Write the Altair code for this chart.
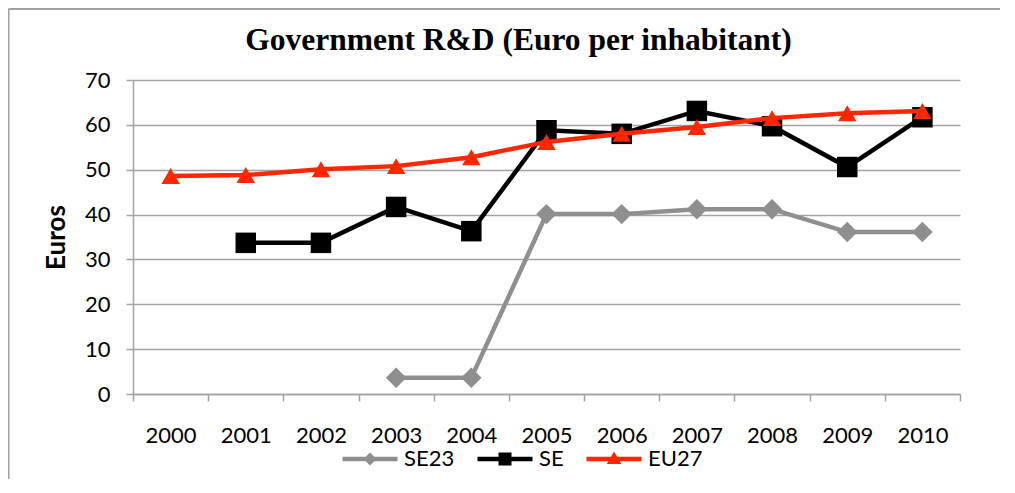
import altair as alt
import pandas as pd

years = ["2000", "2001", "2002", "2003", "2004", "2005", "2006", "2007", "2008", "2009", "2010"]
se23 = [None, None, None, 3.6, 3.6, 40.1, 40.1, 41.2, 41.2, 36.1, 36.1]
se = [None, 33.7, 33.7, 41.7, 36.3, 58.8, 58.0, 63.1, 59.7, 50.6, 61.7]
eu27 = [48.6, 48.8, 50.1, 50.8, 52.8, 56.2, 58.0, 59.5, 61.5, 62.6, 63.1]
series_names = ["SE23", "SE", "EU27"]
series_values = [se23, se, eu27]
colors = ["#8f8f8f", "#000000", "#ff2600"]
shapes = ["diamond", "square", "triangle-up"]
marker_sizes = [420, 420, 340]
y_ticks = [0, 10, 20, 30, 40, 50, 60, 70]
title_text = "Government R&D (Euro per inhabitant)"

W, H = 827, 314
PAD = {"left": 125, "top": 72, "right": 40, "bottom": 85}
GRID = "#a3a3a3"

# legend symbols: line segment + marker (custom paths)
seg = "M-5.5,-0.45H5.5V0.45H-5.5Z "
legend_paths = [
    seg + "M0,-1.3L1.3,0L0,1.3L-1.3,0Z",
    seg + "M-1.3,-1.3H1.3V1.3H-1.3Z",
    seg + "M0,-1.5L1.45,1.0H-1.45Z",
]

x_enc = alt.X(
    "year:O",
    scale=alt.Scale(type="band", domain=years, paddingInner=0, paddingOuter=0),
    axis=alt.Axis(
        title=None, labelAngle=0, tickBand="extent", grid=False,
        labelFont="Lato", labelFontSize=22, labelColor="black", labelPadding=24,
        tickSize=7, tickColor=GRID, tickWidth=1.5, domainColor=GRID, domainWidth=1.5,
    ),
)
y_enc = alt.Y(
    "value:Q",
    scale=alt.Scale(domain=[0, 70], nice=False, zero=True),
    axis=alt.Axis(
        values=y_ticks, title="Euros", titleFont="Lato", titleFontSize=26,
        titleFontWeight="bold", titleColor="black", titlePadding=15,
        labelFont="Lato", labelFontSize=22, labelColor="black", labelPadding=16,
        tickSize=7, tickColor=GRID, tickWidth=1.5, domainColor=GRID, domainWidth=1.5,
        grid=True, gridColor=GRID, gridWidth=1.5,
    ),
)

layers = []
for name, vals, col, shp, msz in zip(series_names, series_values, colors, shapes, marker_sizes):
    df = pd.DataFrame({"year": years, "value": vals}).dropna()
    base = alt.Chart(df).encode(x=x_enc, y=y_enc)
    layers.append(base.mark_line(color=col, strokeWidth=4.5))
    layers.append(base.mark_point(filled=True, color=col, shape=shp, size=msz, opacity=1))

legend_df = pd.DataFrame({"series": series_names})
legend_layer = alt.Chart(legend_df).transform_filter("false").mark_point(filled=True, opacity=1).encode(
    fill=alt.Fill("series:N", scale=alt.Scale(domain=series_names, range=colors),
                  legend=alt.Legend(title=None)),
    shape=alt.Shape("series:N", scale=alt.Scale(domain=series_names, range=legend_paths),
                    legend=alt.Legend(title=None)),
)

one = pd.DataFrame({"k": [0]})
frame_top = alt.Chart(one).mark_rule(color="#a0a0a0", strokeWidth=2).encode(
    x=alt.value(-PAD["left"] + 0.5), x2=alt.value(W + PAD["right"]), y=alt.value(-PAD["top"] + 1)
)
frame_left = alt.Chart(one).mark_rule(color="#a0a0a0", strokeWidth=2).encode(
    x=alt.value(-PAD["left"] + 0.5), y=alt.value(-PAD["top"] + 1), y2=alt.value(H + PAD["bottom"])
)
title_mark = alt.Chart(one).mark_text(
    font="Liberation Serif", fontSize=31.5, fontWeight="bold", color="black",
    align="center", baseline="alphabetic",
).encode(x=alt.value(W / 2 - 28), y=alt.value(-30), text=alt.value(title_text))

chart = alt.layer(*layers, legend_layer, frame_top, frame_left, title_mark).properties(
    width=W, height=H,
    autosize=alt.AutoSizeParams(type="none"),
    padding=PAD,
).configure_view(stroke=None).configure_legend(
    orient="none", legendX=226, legendY=368, direction="horizontal",
    symbolSize=100, symbolStrokeWidth=0, labelOffset=23, columnPadding=22,
    labelFont="Lato", labelFontSize=22, labelColor="black",
)

chart.save("out.html", embed_options={"renderer": "svg", "actions": False})
